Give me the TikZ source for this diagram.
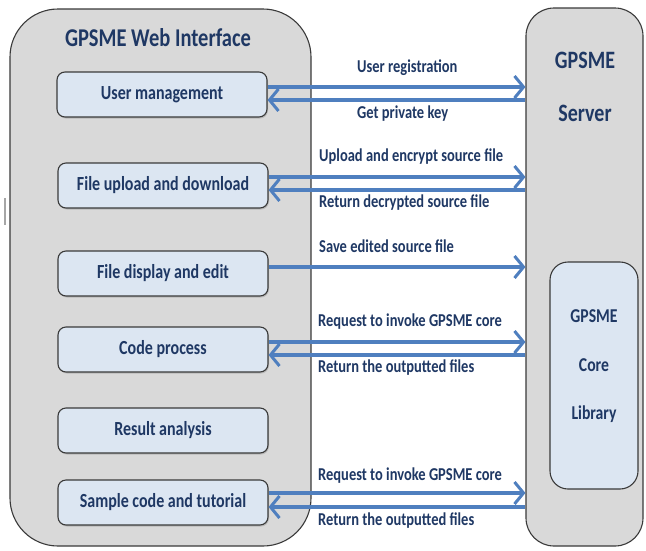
\documentclass[tikz,border=0pt]{standalone}
\usepackage{fontspec}
\setmainfont{Carlito}
\usetikzlibrary{arrows.meta,shadows}
\definecolor{txt}{HTML}{1F3864}
\definecolor{panel}{HTML}{D9D9D9}
\definecolor{boxfill}{HTML}{DCE6F2}
\definecolor{edge}{HTML}{3A3A3A}
\definecolor{arrowblue}{HTML}{4F7FBF}
\newcommand{\tall}[1]{\scalebox{1}[1.25]{#1}}
\tikzset{
  panelbox/.style={draw=edge, line width=1.1pt, fill=panel, inner sep=0pt},
  modbox/.style={draw=edge, line width=1.1pt, fill=boxfill, rounded corners=8pt,
    minimum width=210pt, minimum height=45pt, inner sep=0pt,
    font=\bfseries\fontsize{16}{18}\selectfont, text=txt,
    drop shadow={shadow xshift=1pt, shadow yshift=-1.5pt, opacity=0.35}},
  lbl/.style={font=\bfseries\fontsize{14.5}{16}\selectfont, text=txt, inner sep=0pt},
  corelbl/.style={font=\bfseries\fontsize{15.7}{18}\selectfont, text=txt, inner sep=0pt},
  ttl/.style={font=\bfseries\fontsize{20.5}{23}\selectfont, text=txt, inner sep=0pt},
  arr/.style={draw=arrowblue, line width=3.5pt, -{Straight Barb[length=9pt,width=22pt,line width=3pt]}},
}
\begin{document}
\begin{tikzpicture}[x=1pt,y=-1pt]
\useasboundingbox[fill=white] (0,0) rectangle (646,550);
% stray mark
\draw[gray!70, line width=1.5pt] (5,198) -- (5,225);
% panels
\node[panelbox, rounded corners=48pt, minimum width=301pt, minimum height=537pt] (web) at (160.5,277.5) {};
\node[panelbox, rounded corners=28pt, minimum width=117pt, minimum height=538pt] (server) at (584.5,277) {};
\node[ttl] (webtitle) at (158,38) {\tall{GPSME Web Interface}};
\node[ttl, font=\bfseries\fontsize{20}{23}\selectfont] (srv1) at (585,60) {\tall{GPSME}};
\node[ttl, font=\bfseries\fontsize{20}{23}\selectfont] (srv2) at (585,113) {\tall{Server}};
% core library
\node[draw=edge, line width=1.1pt, fill=boxfill, rounded corners=18pt, minimum width=88pt, minimum height=227pt, inner sep=0pt] (core) at (594,375.5) {};
\node[corelbl] (core1) at (594,316) {\tall{GPSME}};
\node[corelbl] (core2) at (594,365) {\tall{Core}};
\node[corelbl] (core3) at (594,414) {\tall{Library}};
% modules
\node[modbox] (um) at (162,94.5) {\tall{User management}};
\node[modbox] (fu) at (163,185.5) {\tall{File upload and download}};
\node[modbox] (fd) at (163,273.5) {\tall{File display and edit}};
\node[modbox] (cp) at (163,349.5) {\tall{Code process}};
\node[modbox] (ra) at (163,430.5) {\tall{Result analysis}};
\node[modbox] (sc) at (163,502.5) {\tall{Sample code and tutorial}};
% arrows
\draw[arr] (um.east |- 0,87) -- (server.west |- 0,87);
\draw[arr] (server.west |- 0,100) -- (um.east |- 0,100);
\draw[arr] (fu.east |- 0,177) -- (server.west |- 0,177);
\draw[arr] (server.west |- 0,190) -- (fu.east |- 0,190);
\draw[arr] (fd.east |- 0,267) -- (server.west |- 0,267);
\draw[arr] (cp.east |- 0,342) -- (server.west |- 0,342);
\draw[arr] (server.west |- 0,355) -- (cp.east |- 0,355);
\draw[arr] (sc.east |- 0,493) -- (server.west |- 0,493);
\draw[arr] (server.west |- 0,507) -- (sc.east |- 0,507);
% labels
\node[lbl, anchor=west] (l1) at (357,68) {\tall{User registration}};
\node[lbl, anchor=west] (l2) at (357,114) {\tall{Get private key}};
\node[lbl, anchor=west] (l3) at (319,157) {\tall{Upload and encrypt source file}};
\node[lbl, anchor=west] (l4) at (319,203) {\tall{Return decrypted source file}};
\node[lbl, anchor=west] (l5) at (319,246) {\tall{Save edited source file}};
\node[lbl, anchor=west] (l6) at (318,322) {\tall{Request to invoke GPSME core}};
\node[lbl, anchor=west] (l7) at (318,368) {\tall{Return the outputted files}};
\node[lbl, anchor=west] (l8) at (318,476) {\tall{Request to invoke GPSME core}};
\node[lbl, anchor=west] (l9) at (318,521) {\tall{Return the outputted files}};
\end{tikzpicture}
\end{document}
